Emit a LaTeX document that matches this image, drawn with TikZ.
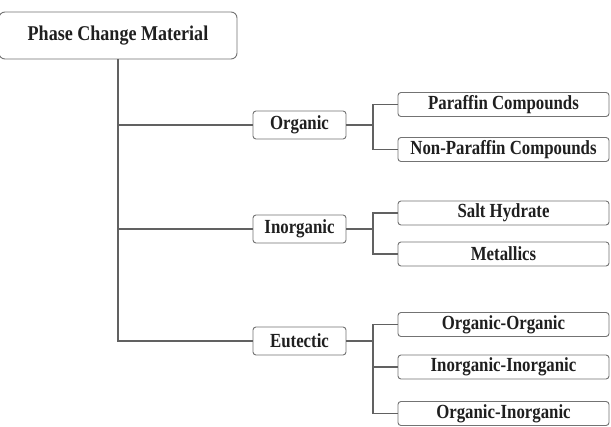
\documentclass[tikz,border=0pt]{standalone}
\usepackage{fontspec}
\setmainfont{Liberation Serif}
\newfontfamily\cfont[FakeStretch=0.84]{Liberation Serif}
\newfontfamily\rfont[FakeStretch=0.86]{Liberation Serif}
\begin{document}
\begin{tikzpicture}[x=1pt,y=-1pt,
  box/.style={draw=black!55,line width=0.9pt,rounded corners=3pt,fill=white,inner sep=0pt,
    font=\cfont\fontsize{20}{22}\selectfont\bfseries,text=black!88},
  rootbox/.style={box,minimum width=238pt,minimum height=47pt,rounded corners=6pt,
    font=\rfont\fontsize{21}{23}\selectfont\bfseries},
  midbox/.style={box,minimum width=93pt,minimum height=28pt},
  leafbox/.style={box,minimum width=211pt,minimum height=24pt},
  conn/.style={draw=black!62,line width=1.3pt}]
\useasboundingbox (0,0) rectangle (611,427);
\fill[white] (0,0) rectangle (611,427);
\coordinate (jo) at (373,125);
\coordinate (ji) at (373,229);
\coordinate (je) at (373,341);
\node[rootbox] (root) at (118,35.5) {Phase Change Material};
\node[midbox] (org) at (299.5,125) {Organic};
\node[midbox] (inorg) at (299.5,229) {Inorganic};
\node[midbox] (eut) at (299.5,341) {Eutectic};
\node[leafbox] (par) at (503.5,104.5) {Paraffin Compounds};
\node[leafbox] (npar) at (503.5,149.5) {Non-Paraffin Compounds};
\node[leafbox] (salt) at (503.5,213) {Salt Hydrate};
\node[leafbox] (met) at (503.5,254) {Metallics};
\node[leafbox] (oo) at (503.5,324.5) {Organic-Organic};
\node[leafbox] (ii) at (503.5,367) {Inorganic-Inorganic};
\node[leafbox] (oi) at (503.5,413.5) {Organic-Inorganic};
\begin{scope}[conn]
\draw (root.south) |- (org.west);
\draw (root.south) |- (inorg.west);
\draw (root.south) |- (eut.west);
\draw (org.east) -- (jo);
\draw (jo) |- (par.west);
\draw (jo) |- (npar.west);
\draw (inorg.east) -- (ji);
\draw (ji) |- (salt.west);
\draw (ji) |- (met.west);
\draw (eut.east) -- (je);
\draw (je) |- (oo.west);
\draw (je) |- (ii.west);
\draw (je) |- (oi.west);
\end{scope}
\end{tikzpicture}
\end{document}
